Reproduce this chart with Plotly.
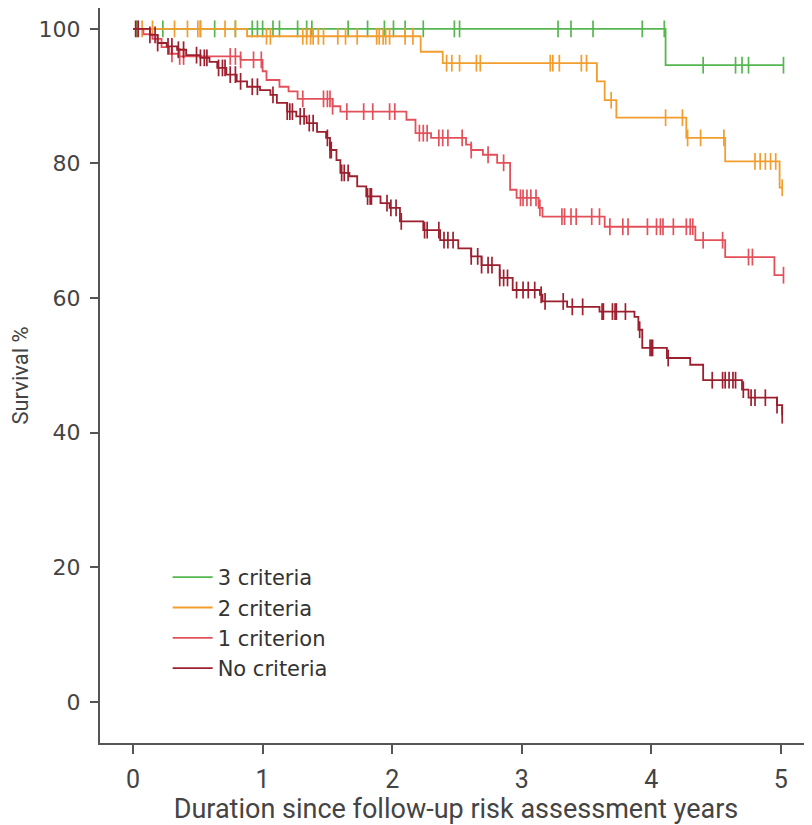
import numpy as np
import plotly.graph_objects as go

# step curves (time in years, survival %)
green_t = [0, 4.11]
green_s = [100, 94.6]
green_end = 5.02
green_cens = [0.03, 0.23, 0.52, 0.63, 0.79, 0.92, 0.96, 1.0, 1.08, 1.13, 1.27, 1.34, 1.38,
              1.66, 1.81, 1.94, 2.01, 2.10, 2.24, 2.48, 2.52, 3.28, 3.38, 3.55, 3.93, 4.10,
              4.40, 4.65, 4.70, 4.75, 5.02]

orange_t = [0, 0.88, 2.22, 2.39, 3.58, 3.64, 3.73, 4.27, 4.57, 4.99]
orange_s = [100, 98.9, 96.6, 94.9, 92.2, 89.4, 86.8, 83.8, 80.3, 76.4]
orange_end = 5.01
orange_cens = [0.07, 0.15, 0.32, 0.42, 0.50, 0.52, 0.71, 0.79,
               1.03, 1.06, 1.31, 1.34, 1.37, 1.39, 1.43, 1.47, 1.58, 1.64, 1.73, 1.88, 1.90,
               1.93, 1.95, 1.98, 2.10, 2.16,
               2.42, 2.46, 2.52, 2.65, 2.68, 3.22, 3.24, 3.29, 3.46, 3.50,
               3.69, 4.11, 4.24, 4.28, 4.38, 4.56, 4.80, 4.84, 4.88, 4.92, 4.96, 5.01]

red_t = [0, 0.08, 0.15, 0.22, 0.28, 0.35, 0.83, 1.0, 1.03, 1.13, 1.2, 1.27, 1.54, 1.6,
         2.11, 2.18, 2.3, 2.57, 2.61, 2.70, 2.81, 2.91, 2.96, 3.13, 3.16, 3.64, 4.34, 4.57, 4.95]
red_s = [100, 99.2, 98.5, 97.3, 96.3, 95.9, 95.4, 93.7, 92.4, 91.4, 90.7, 89.6, 88.5, 87.7,
         86.5, 84.5, 83.8, 82.8, 82.0, 81.3, 80.1, 76.1, 74.9, 73.4, 72.1, 70.6, 68.6, 66.1, 63.4]
red_end = 5.02
red_cens = [0.30, 0.36, 0.39, 0.75, 0.79, 0.83, 0.93, 0.99,
            1.31, 1.47, 1.50, 1.52, 1.54, 1.65, 1.78, 1.85, 1.98, 2.02,
            2.21, 2.24, 2.27, 2.36, 2.39, 2.43, 2.54, 2.61, 2.74, 2.86,
            2.99, 3.01, 3.04, 3.07, 3.11, 3.14, 3.31, 3.33, 3.38, 3.42, 3.54, 3.60,
            3.68, 3.78, 3.82, 3.97, 4.04, 4.07, 4.09, 4.17, 4.27, 4.30, 4.32,
            4.40, 4.55, 4.75, 4.78, 5.02]

dark_t = [0, 0.13, 0.19, 0.26, 0.34, 0.41, 0.52, 0.59, 0.65, 0.72, 0.80, 0.88, 0.98, 1.06,
          1.11, 1.19, 1.26, 1.34, 1.42, 1.49, 1.52, 1.57, 1.60, 1.67, 1.73, 1.80, 1.91, 1.98,
          2.06, 2.24, 2.37, 2.51, 2.61, 2.69, 2.83, 2.93, 3.14, 3.16, 3.35, 3.60, 3.87, 3.90,
          3.93, 4.12, 4.30, 4.40, 4.70, 4.75, 4.97, 5.01]
dark_s = [100, 99.1, 97.9, 97.4, 96.9, 96.1, 95.7, 95.1, 94.2, 93.2, 92.2, 91.4, 90.9, 90.2,
          89.0, 87.7, 87.0, 86.0, 84.7, 83.8, 82.0, 80.5, 78.6, 78.1, 76.6, 75.1, 74.1, 73.4,
          71.4, 70.1, 68.6, 67.4, 66.2, 64.9, 63.0, 61.2, 60.5, 59.5, 58.7, 58.0, 57.2, 55.3,
          52.6, 51.1, 50.1, 47.8, 46.4, 45.2, 44.1, 42.6]
dark_end = 5.01
dark_cens = [0.02, 0.04, 0.13, 0.17, 0.19, 0.27, 0.30, 0.35, 0.39, 0.49, 0.52, 0.55, 0.57,
             0.66, 0.69, 0.71, 0.75, 0.79, 0.83, 0.92, 0.96, 1.08, 1.19, 1.21, 1.23, 1.29,
             1.32, 1.36, 1.39, 1.50, 1.52, 1.53, 1.61, 1.63, 1.66, 1.81, 1.83, 1.84, 1.96,
             1.99, 2.03, 2.07, 2.25, 2.27, 2.36, 2.40, 2.43, 2.47, 2.61, 2.66, 2.69, 2.74,
             2.77, 2.83, 2.86, 2.89, 2.96, 3.01, 3.05, 3.10, 3.15, 3.18, 3.32, 3.39, 3.47,
             3.62, 3.63, 3.70, 3.72, 3.73, 3.80, 3.91, 3.99, 4.00, 4.01, 4.13, 4.47, 4.55,
             4.57, 4.60, 4.63, 4.65, 4.71, 4.77, 4.80, 4.88, 4.97, 5.01]

groups = [
    ("3 criteria", green_t, green_s, green_end, green_cens, "#55b74f"),
    ("2 criteria", orange_t, orange_s, orange_end, orange_cens, "#f29d2e"),
    ("1 criterion", red_t, red_s, red_end, red_cens, "#e4505a"),
    ("No criteria", dark_t, dark_s, dark_end, dark_cens, "#9c1f2e"),
]

fig = go.Figure()
for name, t, s, end, cens, col in groups:
    fig.add_trace(go.Scatter(x=list(t) + [end], y=list(s) + [s[-1]], mode="lines",
                             line=dict(color=col, width=1.8, shape="hv"), name=name,
                             legendgroup=name))
    # censored observations sit on the curve level at that time
    idx = np.searchsorted(np.array(t), np.array(cens), side="right") - 1
    cy = np.array(s)[idx]
    fig.add_trace(go.Scatter(x=cens, y=cy, mode="markers", showlegend=False,
                             legendgroup=name, hoverinfo="skip",
                             marker=dict(symbol="line-ns", size=12,
                                         line=dict(color=col, width=1.7))))

axis_col = "#555555"
narrow = "Liberation Sans Narrow, Roboto, sans-serif"
# the page adds an 8px body margin, so the figure is a bit smaller than the window
fig.update_layout(
    width=804, height=817,
    margin=dict(l=92, r=0, t=0, b=82),
    plot_bgcolor="white", paper_bgcolor="white",
    font=dict(family=narrow, color="#333333"),
    legend=dict(x=0.095, y=0.253, xanchor="left", yanchor="top",
                font=dict(family="DejaVu Sans", size=21, color="#333333"),
                bgcolor="rgba(0,0,0,0)", tracegroupgap=0, itemwidth=40),
    showlegend=True,
)
fig.update_xaxes(range=[-0.255, 5.24], tickvals=[0, 1, 2, 3, 4, 5], automargin=False,
                 showgrid=False, zeroline=False,
                 showline=True, linecolor=axis_col, linewidth=2,
                 ticks="outside", ticklen=9, tickwidth=1.5, tickcolor=axis_col,
                 ticklabelstandoff=4,
                 tickfont=dict(family=narrow, size=25, color="#444444"),
                 title=dict(text="Duration since follow-up risk assessment years",
                            font=dict(family=narrow, size=27, color="#444444"), standoff=0))
fig.update_yaxes(range=[-6.1, 103.1], tickvals=[0, 20, 40, 60, 80, 100], automargin=False,
                 showgrid=False, zeroline=False,
                 showline=True, linecolor=axis_col, linewidth=2,
                 ticks="outside", ticklen=8, tickwidth=1.5, tickcolor=axis_col,
                 ticklabelstandoff=5,
                 tickfont=dict(family="DejaVu Sans", size=22, color="#444444"),
                 title=dict(text="Survival %",
                            font=dict(family=narrow, size=22, color="#444444"), standoff=10))

fig.write_html("out.html")
